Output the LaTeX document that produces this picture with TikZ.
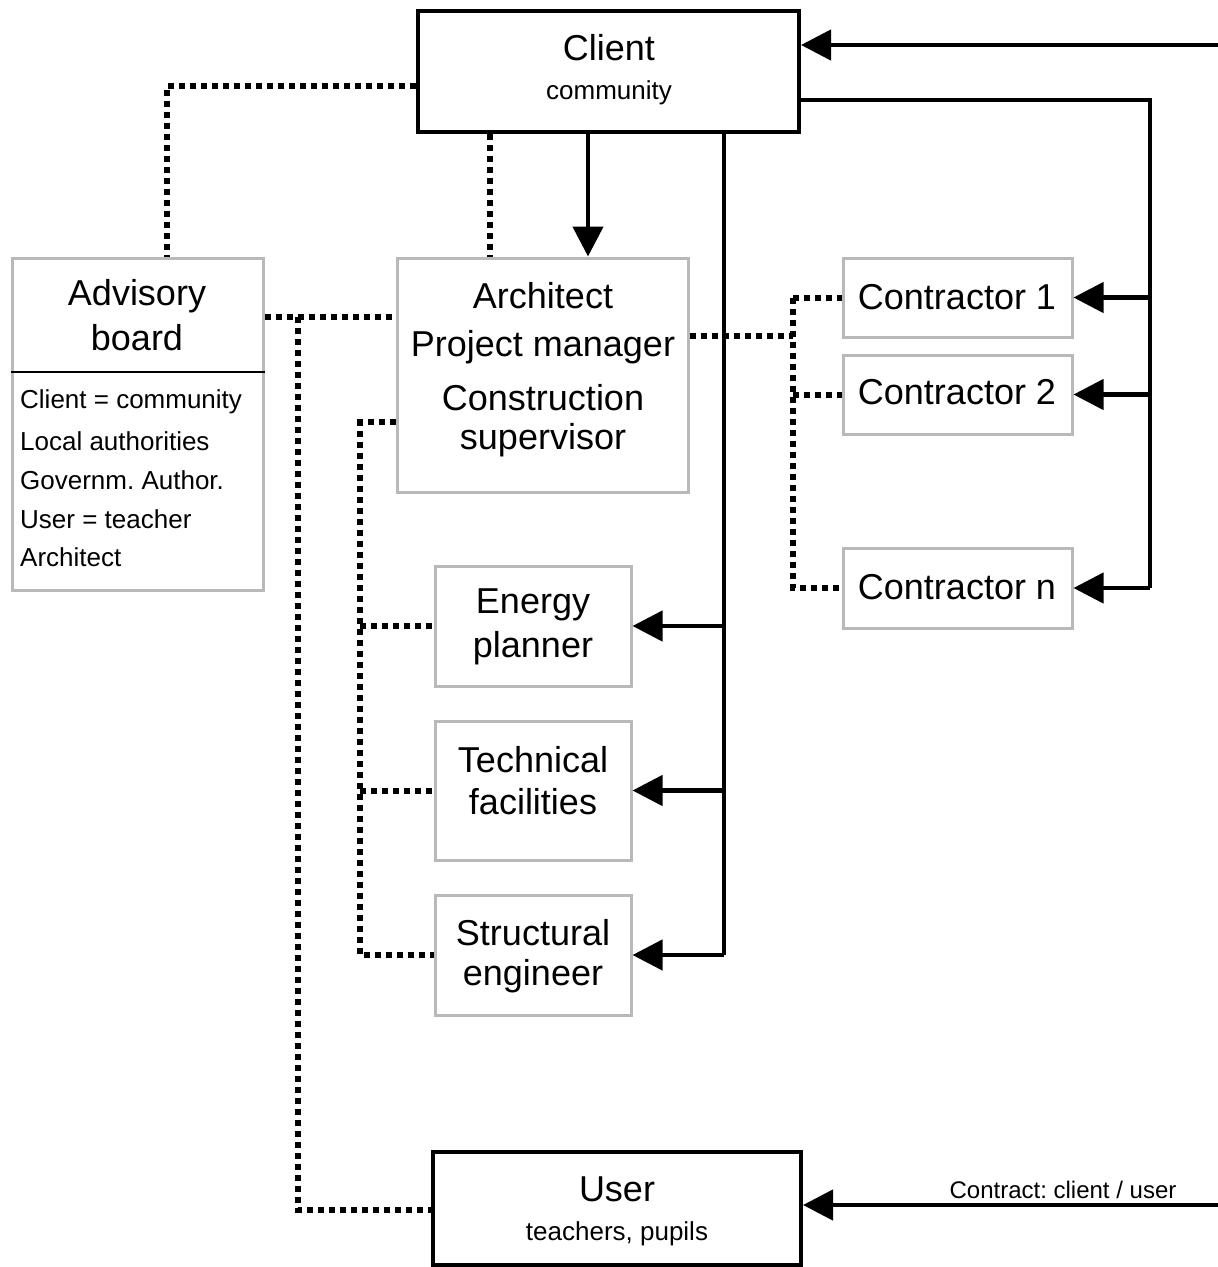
\documentclass[tikz,border=0pt]{standalone}
\usepackage{fontspec}
\setmainfont{Liberation Sans}
\usetikzlibrary{arrows.meta}
\newcommand{\myLarge}{\fontsize{36}{40}\selectfont}
\newcommand{\mySmall}{\fontsize{26}{30}\selectfont}
\frenchspacing
\begin{document}
\begin{tikzpicture}[x=1pt,y=-1pt,
  thickbox/.style={draw=black,line width=4pt,inner sep=0pt,fill=white},
  graybox/.style={draw=gray!55,line width=3pt,inner sep=0pt},
  big/.style={font=\myLarge,inner sep=0pt},
  small/.style={font=\mySmall,inner sep=0pt},
  solidln/.style={line width=4.5pt},
  arr/.style={line width=4.5pt,-{Triangle[length=30pt,width=30pt]}},
  dots/.style={line width=6pt,dash pattern=on 6pt off 5pt}]
\useasboundingbox (0,0) rectangle (1218,1267);
\fill[white] (0,0) rectangle (1218,1267);

% boxes
\node[thickbox,minimum width=381pt,minimum height=121pt] (client) at (608.5,71.5) {};
\node[big] (clientT) at (609,48) {Client};
\node[small] (clientS) at (609,93) {community};

\node[graybox,minimum width=251pt,minimum height=332pt] (adv) at (137.5,424) {};
\node[big] (advT1) at (137,296) {Advisory};
\node[big] (advT2) at (137,338) {board};
\draw[line width=2pt] (adv.west |- 0,372) coordinate (dl) -- (adv.east |- 0,372) coordinate (dr);
\node[small,anchor=west] (l1) at (20,402) {Client = community};
\node[small,anchor=west] (l2) at (20,441) {Local authorities};
\node[small,anchor=west] (l3) at (20,480) {Governm. Author.};
\node[small,anchor=west] (l4) at (20,519) {User = teacher};
\node[small,anchor=west] (l5) at (20,557) {Architect};

\node[graybox,minimum width=291pt,minimum height=234pt] (arch) at (542.5,375) {};
\node[big] (archT1) at (543,296) {Architect};
\node[big] (archT2) at (543,347) {Project manager};
\node[big] (archT3) at (543,398) {Construction};
\node[big] (archT4) at (543,440) {supervisor};

\node[graybox,minimum width=229pt,minimum height=79pt] (c1) at (957.5,297.5) {};
\node[big] (c1T) at (957,297) {Contractor 1};
\node[graybox,minimum width=229pt,minimum height=79pt] (c2) at (957.5,394.5) {};
\node[big] (c2T) at (957,392) {Contractor 2};
\node[graybox,minimum width=229pt,minimum height=80pt] (cn) at (957.5,588) {};
\node[big] (cnT) at (957,587) {Contractor n};

\node[graybox,minimum width=196pt,minimum height=120pt] (en) at (533,626) {};
\node[big] (enT1) at (533,605) {Energy};
\node[big] (enT2) at (533,648) {planner};
\node[graybox,minimum width=196pt,minimum height=139pt] (te) at (533,790.5) {};
\node[big] (teT1) at (533,760) {Technical};
\node[big] (teT2) at (533,802) {facilities};
\node[graybox,minimum width=196pt,minimum height=120pt] (st) at (533,955) {};
\node[big] (stT1) at (533,933) {Structural};
\node[big] (stT2) at (533,976) {engineer};

\node[thickbox,minimum width=368pt,minimum height=113pt] (user) at (617,1208.5) {};
\node[big] (userT) at (617,1189) {User};
\node[small] (userS) at (617,1234) {teachers, pupils};

% solid connectors
\coordinate (inTop) at (1218,45);
\draw[arr] (inTop) -- (inTop -| client.east);

\coordinate (busR) at (1150,100);
\draw[solidln] (client.east |- busR) -- (busR) -- (busR |- cn.east);
\draw[arr] (busR |- cn.east) -- (cn.east);
\draw[arr] (busR |- c1.east) -- (c1.east);
\draw[arr] (busR |- c2.east) -- (c2.east);

\coordinate (downA) at (588,0);
\draw[arr] (downA |- client.south) -- (downA |- arch.north);

\coordinate (busM) at (724,0);
\draw[solidln] (busM |- client.south) -- (busM |- st.east);
\draw[arr] (busM |- en.east) -- (en.east);
\draw[arr] (busM |- te.east) -- (te.east);
\draw[arr] (busM |- st.east) -- (st.east);

\coordinate (inBot) at (1218,1205);
\draw[arr] (inBot) -- (inBot -| user.east);
\node[font=\fontsize{24}{28}\selectfont,inner sep=0pt] (contract) at (1063,1190) {Contract: client / user};

% dotted connectors
\coordinate (dA) at (167,86);
\draw[dots] (client.west |- dA) -- (dA) -- (dA |- adv.north);
\coordinate (dB) at (490,0);
\draw[dots] (dB |- client.south) -- (dB |- arch.north);
\coordinate (dC) at (298,317);
\draw[dots] (adv.east |- dC) -- (arch.west |- dC);
\draw[dots] (dC) -- (298,1210) coordinate (dC2) -- (dC2 -| user.west);
\coordinate (dD) at (360,422);
\draw[dots] (arch.west |- dD) -- (dD) -- (dD |- st.west) -- (st.west);
\draw[dots] (dD |- en.west) -- (en.west);
\draw[dots] (dD |- te.west) -- (te.west);
\coordinate (dE) at (793,336);
\draw[dots] (arch.east |- dE) -- (dE);
\draw[dots] (dE |- c1.west) -- (dE |- cn.west) -- (cn.west);
\draw[dots] (dE |- c1.west) -- (c1.west);
\draw[dots] (dE |- c2.west) -- (c2.west);
\end{tikzpicture}
\end{document}
